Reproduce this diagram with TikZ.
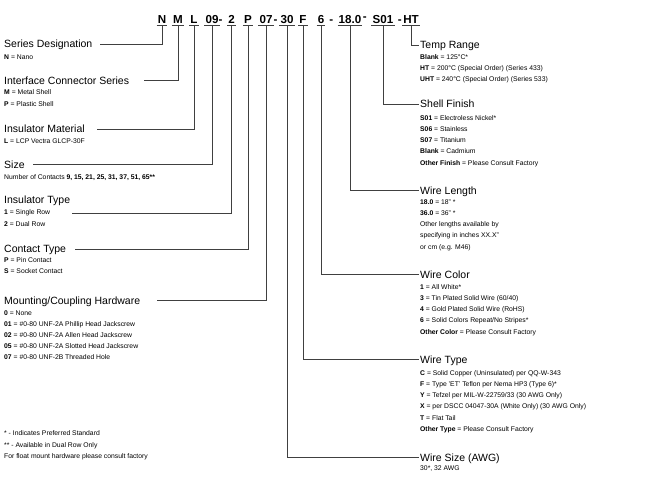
\documentclass[tikz,border=0pt]{standalone}
\usepackage{fontspec}
\setmainfont{Liberation Sans}
\usetikzlibrary{positioning}

\tikzset{
  lead/.style = {draw=black!75, line width=0.65pt},
  code/.style = {anchor=base, inner sep=0pt, font=\fontsize{11.6}{13}\selectfont\bfseries},
  head/.style = {anchor=west, inner sep=1pt, text height=7.5pt, text depth=0pt,
                 font=\fontsize{10.5}{12}\selectfont},
  item/.style = {anchor=north west, inner sep=1pt, align=left,
                 font=\fontsize{6.8}{11.2}\selectfont,
                 execute at begin node={\rule{0pt}{5pt}}}
}

\begin{document}
\begin{tikzpicture}[x=1pt, y=-1pt]

    \useasboundingbox (0,0) rectangle (650,484);

    % part number
    \foreach \n/\t/\x in {cN/N/162, cM/M/178, cL/L/194, cSz/09/212, cIt/2/231.5,
        cP/P/248, cMh/07/266, cWs/30/287, cF/F/303, cC/6/321, cWl/18.0/350,
        cS/S01/383, cHT/HT/411}
    {
      \node[code] (\n) at (\x,23.3) {\t};
      \draw[lead] ([xshift=-1pt,yshift=-2pt]\n.south west) -- ([xshift=1pt,yshift=-2pt]\n.south east);
    }
    \foreach \n/\x/\y in {d1/220.5/23.3, d2/275.5/23.3, d3/331.3/23.3, d4/364.7/20.3, d5/399.7/23.3}
      \node[code] (\n) at (\x,\y) {-};

    % left column
    \node[head] (hSer) at (3,44) {Series Designation};
    \node[item] (iSer) at (3,53.1) {\textbf{N} = Nano};

    \node[head] (hIfc) at (3,80.7) {Interface Connector Series};
    \node[item] (iIfc) at (3,88.7) {\textbf{M} = Metal Shell\\ \textbf{P} = Plastic Shell};

    \node[head] (hIns) at (3,129) {Insulator Material};
    \node[item] (iIns) at (3,137.4) {\textbf{L} = LCP Vectra GLCP-30F};

    \node[head] (hSize) at (3,164.7) {Size};
    \node[item] (iSize) at (3,173.1) {Number of Contacts \textbf{9, 15, 21, 25, 31, 37, 51, 65**}};

    \node[head] (hIt) at (3,200) {Insulator Type};
    \node[item] (iIt1) at (3,208.7) {\textbf{1} = Single Row};
    \node[item] (iIt2) at (3,219.9) {\textbf{2} = Dual Row};

    \node[head] (hCt) at (3,249) {Contact Type};
    \node[item] (iCt) at (3,256.4) {\textbf{P} = Pin Contact\\ \textbf{S} = Socket Contact};

    \node[head] (hMh) at (3,300.7) {Mounting/Coupling Hardware};
    \node[item] (iMh) at (3,309.1) {\textbf{0} = None\\
      \textbf{01} = \#0-80 UNF-2A Phillip Head Jackscrew\\
      \textbf{02} = \#0-80 UNF-2A Allen Head Jackscrew\\
      \textbf{05} = \#0-80 UNF-2A Slotted Head Jackscrew\\
      \textbf{07} = \#0-80 UNF-2B Threaded Hole};

    \node[item] (note) at (3,429.7) {* - Indicates Preferred Standard\\
      ** - Available in Dual Row Only\\
      For float mount hardware please consult factory};

    % right column
    \node[head] (hTemp) at (419,45) {Temp Range};
    \node[item] (iTemp) at (419,53.1) {\textbf{Blank} = 125°C*\\
      \textbf{HT} = 200°C (Special Order) (Series 433)\\
      \textbf{UHT} = 240°C (Special Order) (Series 533)};

    \node[head] (hSh) at (419,104) {Shell Finish};
    \node[item] (iSh) at (419,114.1) {\textbf{S01} = Electroless Nickel*\\
      \textbf{S06} = Stainless\\
      \textbf{S07} = Titanium\\
      \textbf{Blank} = Cadmium\\
      \textbf{Other Finish} = Please Consult Factory};

    \node[head] (hWl) at (419,190.7) {Wire Length};
    \node[item] (iWl) at (419,198.4) {\textbf{18.0} = 18" *\\
      \textbf{36.0} = 36" *\\
      Other lengths available by\\
      specifying in inches XX.X"\\
      or cm (e.g. M46)};

    \node[head] (hC) at (419,274.5) {Wire Color};
    \node[item] (iC) at (419,283.1) {\textbf{1} = All White*\\
      \textbf{3} = Tin Plated Solid Wire (60/40)\\
      \textbf{4} = Gold Plated Solid Wire (RoHS)\\
      \textbf{6} = Solid Colors Repeat/No Stripes*\\
      \textbf{Other Color} = Please Consult Factory};

    \node[head] (hF) at (419,359.5) {Wire Type};
    \node[item] (iF) at (419,369.1) {\textbf{C} = Solid Copper (Uninsulated) per QQ-W-343\\
      \textbf{F} = Type 'ET' Teflon per Nema HP3 (Type 6)*\\
      \textbf{Y} = Tefzel per MIL-W-22759/33 (30 AWG Only)\\
      \textbf{X} = per DSCC 04047-30A (White Only) (30 AWG Only)\\
      \textbf{T} = Flat Tail\\
      \textbf{Other Type} = Please Consult Factory};

    \node[head] (hWs) at (419,457.8) {Wire Size (AWG)};
    \node[item] (iWs) at (419,464.7) {30*, 32 AWG};

    % leaders
    \draw[lead] ([yshift=-2pt]cN.south)  |- (hSer.east -| 100,0);
    \draw[lead] ([yshift=-2pt]cM.south)  |- (hIfc.east -| 144,0);
    \draw[lead] ([yshift=-2pt]cL.south)  |- (hIns.east -| 97,0);
    \draw[lead] ([yshift=-2pt]cSz.south) |- (hSize.east -| 33,0);
    \draw[lead] ([yshift=-2pt]cIt.south) |- (iIt1.east -| 72,0);
    \draw[lead] ([yshift=-2pt]cP.south)  |- (hCt.east -| 75,0);
    \draw[lead] ([yshift=-2pt]cMh.south) |- (hMh.east -| 157,0);

    \draw[lead] ([yshift=-2pt]cWs.south) |- (hWs.west);
    \draw[lead] ([yshift=-2pt]cF.south)  |- (hF.west);
    \draw[lead] ([yshift=-2pt]cC.south)  |- (hC.west);
    \draw[lead] ([yshift=-2pt]cWl.south) |- (hWl.west);
    \draw[lead] ([yshift=-2pt]cS.south)  |- (hSh.west);
    \draw[lead] ([yshift=-2pt]cHT.south) |- (hTemp.west);

\end{tikzpicture}
\end{document}
